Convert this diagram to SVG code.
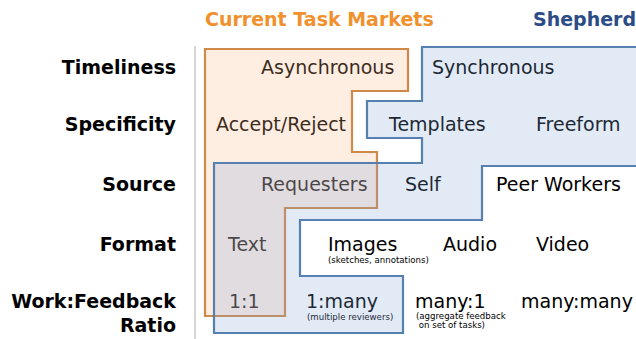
<svg xmlns="http://www.w3.org/2000/svg" width="636" height="339" viewBox="0 0 636 339">
<style>
  .t { font-family: "DejaVu Sans", Verdana, sans-serif; font-size: 19px; fill: #000; }
  .b { font-family: "DejaVu Sans", Verdana, sans-serif; font-size: 19px; font-weight: bold; fill: #000; }
  .lbl { text-anchor: end; }
  .s { font-family: "DejaVu Sans", Verdana, sans-serif; font-size: 8.6px; fill: #000; }
  .orange { fill: rgb(251,179,128); fill-opacity: 0.235; stroke: #D08A48; stroke-width: 2.2; stroke-linejoin: miter; }
  .blue { fill: rgb(130,165,217); fill-opacity: 0.23; stroke: #5680B0; stroke-width: 2.2; stroke-linejoin: miter; }
</style>
<rect width="636" height="339" fill="#fff"/>
<g id="headers">
  <text class="b" x="205" y="26" style="fill:#F0912E">Current Task Markets</text>
  <text class="b" x="533" y="26" style="fill:#2B4C86">Shepherd</text>
</g>
<line id="separator" x1="195" y1="46" x2="195" y2="339" stroke="#C8C8C8" stroke-width="1.5"/>
<g id="row-labels">
  <text class="b lbl" x="176" y="74">Timeliness</text>
  <text class="b lbl" x="176" y="131">Specificity</text>
  <text class="b lbl" x="176" y="191">Source</text>
  <text class="b lbl" x="176" y="251">Format</text>
  <text class="b lbl" x="176" y="308">Work:Feedback</text>
  <text class="b lbl" x="176" y="332">Ratio</text>
</g>
<g id="cells">
  <text class="t" x="261" y="74">Asynchronous</text>
  <text class="t" x="432" y="74">Synchronous</text>
  <text class="t" x="216" y="131">Accept/Reject</text>
  <text class="t" x="389" y="131">Templates</text>
  <text class="t" x="536" y="131">Freeform</text>
  <text class="t" x="261" y="191">Requesters</text>
  <text class="t" x="405" y="191">Self</text>
  <text class="t" x="496" y="191">Peer Workers</text>
  <text class="t" x="228" y="251">Text</text>
  <text class="t" x="328" y="251">Images</text>
  <text class="s" x="328" y="263">(sketches, annotations)</text>
  <text class="t" x="443" y="251">Audio</text>
  <text class="t" x="536" y="251">Video</text>
  <text class="t" x="229" y="308">1:1</text>
  <text class="t" x="306" y="308">1:many</text>
  <text class="s" x="307" y="319.5">(multiple reviewers)</text>
  <text class="t" x="415" y="308">many:1</text>
  <text class="s" x="416" y="318.5">(aggregate feedback</text>
  <text class="s" x="416" y="328">&#160;on set of tasks)</text>
  <text class="t" x="521" y="308">many:many</text>
</g>
<g id="current-task-markets">
  <path class="orange" d="M205,49 H408 V91 H352 V152 H377 V208 H285 V316 H205 Z"/>
</g>
<g id="shepherd">
  <path class="blue" d="M422,47 H642 V166 H482 V220 H300 V276 H403 V333 H214 V163 H422 V138 H367 V101 H422 Z"/>
</g>
</svg>
